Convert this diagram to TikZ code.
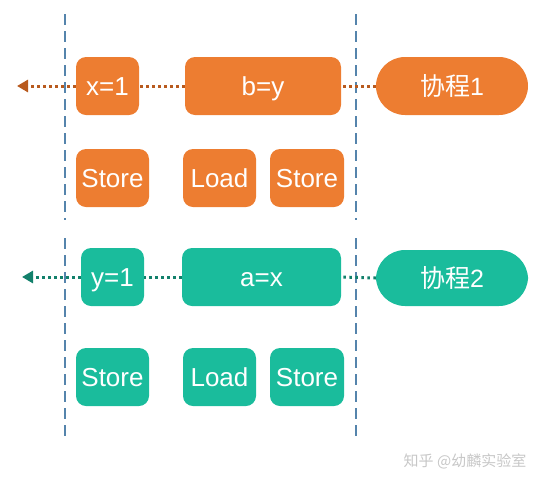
\documentclass[tikz,border=0pt]{standalone}
\usepackage{fontspec}
\setmainfont{Liberation Sans}
\newfontfamily\cjk{Noto Sans CJK SC}
\usetikzlibrary{arrows.meta}
\definecolor{org}{HTML}{ED7D31}
\definecolor{orgdark}{HTML}{B85A1E}
\definecolor{tea}{HTML}{1ABC9C}
\definecolor{teadark}{HTML}{12806B}
\definecolor{sep}{HTML}{5584AC}
\begin{document}
\begin{tikzpicture}[x=1pt,y=-1pt,
  box/.style={rounded corners=10pt, minimum height=58pt, inner sep=0pt, text=white, font=\fontsize{26}{26}\selectfont, text height=18.6pt, text depth=0pt},
  obox/.style={box, fill=org},
  tbox/.style={box, fill=tea},
  pill/.style={box, rounded corners=29pt, minimum width=152pt, font=\fontsize{25}{25}\selectfont, text height=19pt},
  sepline/.style={draw=sep, line width=1.2pt, dash pattern=on 11pt off 6pt},
  dotline/.style={line width=3pt, dash pattern=on 2.5pt off 3.5pt},
  arr/.style={-{Triangle[length=11pt,width=12pt]}}
]
\useasboundingbox (0,0) rectangle (544,483);
% separators
\coordinate (l1a) at (65,14); \coordinate (l1b) at (65,220);
\coordinate (l2a) at (65,238); \coordinate (l2b) at (65,442);
\coordinate (r1a) at (356,14); \coordinate (r1b) at (356,220);
\coordinate (r2a) at (356,238); \coordinate (r2b) at (356,442);
\draw[sepline] (l1a) -- (l1b);
\draw[sepline] (l2a) -- (l2b);
\draw[sepline] (r1a) -- (r1b);
\draw[sepline] (r2a) -- (r2b);

% top section
\node[obox, minimum width=63pt] (x1) at (107.5,86) {x=1};
\node[obox, minimum width=156pt] (by) at (263,86) {b=y};
\node[obox, pill] (c1) at (452,86) {{\cjk 协程}1};
\node[obox, minimum width=73pt] (s1) at (112.5,178) {Store};
\node[obox, minimum width=73pt] (ld1) at (219.5,178) {Load};
\node[obox, minimum width=74pt] (s2) at (307,178) {Store};
\coordinate (e1) at (17,86);
\draw[dotline, draw=orgdark] (c1.west) -- (by.east);
\draw[dotline, draw=orgdark] (by.west) -- (x1.east);
\draw[dotline, draw=orgdark, arr, color=orgdark] (x1.west) -- (e1);

% bottom section
\node[tbox, minimum width=63pt] (y1) at (112.5,277) {y=1};
\node[tbox, minimum width=159pt] (ax) at (261.5,277) {a=x};
\node[tbox, pill, minimum height=56pt] (c2) at (452,278) {{\cjk 协程}2};
\node[tbox, minimum width=73pt] (s3) at (112.5,377) {Store};
\node[tbox, minimum width=73pt] (ld2) at (219.5,377) {Load};
\node[tbox, minimum width=74pt] (s4) at (307,377) {Store};
\coordinate (e2) at (22,277);
\draw[dotline, draw=teadark] (c2.west) -- (ax.east);
\draw[dotline, draw=teadark] (ax.west) -- (y1.east);
\draw[dotline, draw=teadark, arr, color=teadark] (y1.west) -- (e2);

% watermark
\node[text=black!22, font=\cjk\fontsize{15}{15}\selectfont, inner sep=0pt] (wm) at (465,461) {知乎 @幼麟实验室};
\end{tikzpicture}
\end{document}
